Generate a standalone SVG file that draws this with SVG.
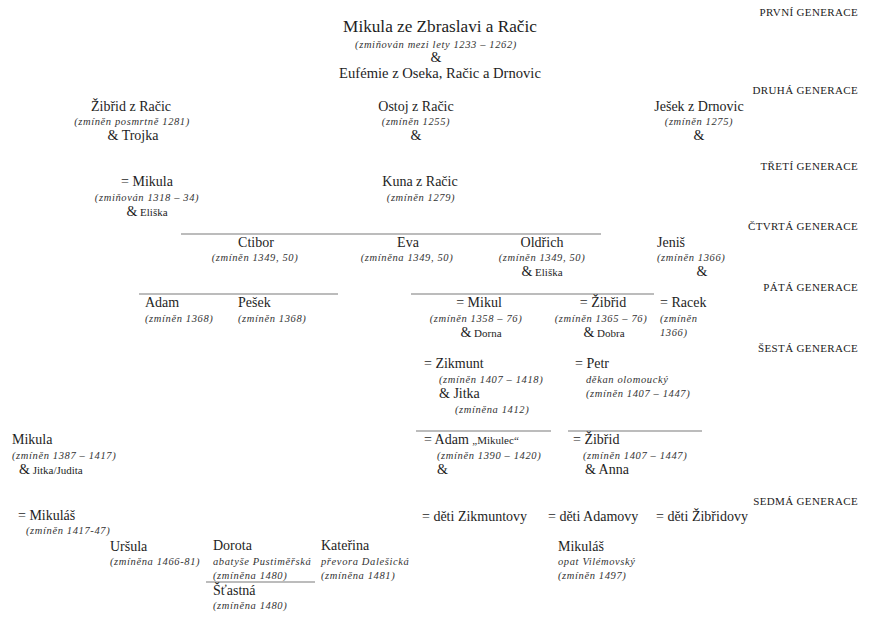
<svg xmlns="http://www.w3.org/2000/svg" width="873" height="622" viewBox="0 0 873 622">
<style>
text{font-family:"Liberation Serif","Times New Roman",serif;fill:#1e1e1e}
.n{font-size:14px}
.t{font-size:17.2px}
.d{font-size:10.5px;font-style:italic;letter-spacing:0.62px;fill:#333}
.s{font-size:11px}
.g{font-size:11px;letter-spacing:0.35px;fill:#222;text-anchor:end}
.c{text-anchor:middle}
.ln{stroke:#7a7a7a;stroke-width:1.2;fill:none}
</style>
<rect width="873" height="622" fill="#fff"/>
<g id="generations">
<text class="g" x="858" y="16">PRVNÍ GENERACE</text>
<text class="g" x="858" y="94">DRUHÁ GENERACE</text>
<text class="g" x="858" y="170">TŘETÍ GENERACE</text>
<text class="g" x="858" y="230">ČTVRTÁ GENERACE</text>
<text class="g" x="858" y="291">PÁTÁ GENERACE</text>
<text class="g" x="858" y="352">ŠESTÁ GENERACE</text>
<text class="g" x="858" y="505">SEDMÁ GENERACE</text>
</g>
<g id="connectors">
<line class="ln" x1="181" y1="234" x2="601" y2="234"/>
<line class="ln" x1="139" y1="294" x2="338" y2="294"/>
<line class="ln" x1="411" y1="294" x2="654" y2="294"/>
<line class="ln" x1="416" y1="431" x2="551" y2="431"/>
<line class="ln" x1="568" y1="431" x2="702" y2="431"/>
<line class="ln" x1="206" y1="582" x2="315" y2="582"/>
</g>
<g id="mikula-zbraslav">
<text class="t c" x="440" y="32">Mikula ze Zbraslavi a Račic</text>
<text class="d c" x="436" y="48">(zmiňován mezi lety 1233 – 1262)</text>
<text class="n c" x="436" y="62">&amp;</text>
<text class="c" x="440" y="78" style="font-size:14.6px">Eufémie z Oseka, Račic a Drnovic</text>
</g>
<g id="zibrid-racic">
<text class="n c" x="131" y="111">Žibřid z Račic</text>
<text class="d c" x="132" y="125">(zmíněn posmrtně 1281)</text>
<text class="n c" x="133" y="140">&amp; Trojka</text>
</g>
<g id="ostoj">
<text class="n c" x="416" y="111">Ostoj z Račic</text>
<text class="d c" x="416" y="125">(zmíněn 1255)</text>
<text class="n c" x="416" y="140">&amp;</text>
</g>
<g id="jesek">
<text class="n c" x="699" y="111">Ješek z Drnovic</text>
<text class="d c" x="699" y="125">(zmíněn 1275)</text>
<text class="n c" x="699" y="140">&amp;</text>
</g>
<g id="mikula-3">
<text class="n c" x="147" y="186">= Mikula</text>
<text class="d c" x="147" y="201">(zmiňován 1318 – 34)</text>
<text class="c" x="147" y="216"><tspan class="n">&amp;</tspan><tspan class="s"> Eliška</tspan></text>
</g>
<g id="kuna">
<text class="n c" x="420" y="186">Kuna z Račic</text>
<text class="d c" x="421" y="201">(zmíněn 1279)</text>
</g>
<g id="ctibor">
<text class="n c" x="256" y="247">Ctibor</text>
<text class="d c" x="255" y="261">(zmíněn 1349, 50)</text>
</g>
<g id="eva">
<text class="n c" x="408" y="247">Eva</text>
<text class="d c" x="407" y="261">(zmíněna 1349, 50)</text>
</g>
<g id="oldrich">
<text class="n c" x="542" y="247">Oldřich</text>
<text class="d c" x="542" y="261">(zmíněn 1349, 50)</text>
<text class="c" x="542" y="276"><tspan class="n">&amp;</tspan><tspan class="s"> Eliška</tspan></text>
</g>
<g id="jenis">
<text class="n" x="657" y="247">Jeniš</text>
<text class="d" x="657" y="261">(zmíněn 1366)</text>
<text class="n c" x="702" y="276">&amp;</text>
</g>
<g id="adam-5">
<text class="n" x="145" y="307">Adam</text>
<text class="d" x="145" y="322">(zmíněn 1368)</text>
</g>
<g id="pesek">
<text class="n" x="238" y="307">Pešek</text>
<text class="d" x="238" y="322">(zmíněn 1368)</text>
</g>
<g id="mikul">
<text class="n c" x="479" y="307">= Mikul</text>
<text class="d c" x="476" y="322">(zmíněn 1358 – 76)</text>
<text class="c" x="481" y="337"><tspan class="n">&amp;</tspan><tspan class="s"> Dorna</tspan></text>
</g>
<g id="zibrid-5">
<text class="n c" x="603" y="307">= Žibřid</text>
<text class="d c" x="601" y="322">(zmíněn 1365 – 76)</text>
<text class="c" x="604" y="337"><tspan class="n">&amp;</tspan><tspan class="s"> Dobra</tspan></text>
</g>
<g id="racek">
<text class="n" x="660" y="307">= Racek</text>
<text class="d" x="660" y="322">(zmíněn</text>
<text class="d" x="660" y="336">1366)</text>
</g>
<g id="zikmunt">
<text class="n" x="424" y="368">= Zikmunt</text>
<text class="d" x="439" y="383">(zmíněn 1407 – 1418)</text>
<text class="n" x="439" y="398">&amp; Jitka</text>
<text class="d" x="455" y="413">(zmíněna 1412)</text>
</g>
<g id="petr">
<text class="n" x="575" y="368">= Petr</text>
<text class="d" x="586" y="383">děkan olomoucký</text>
<text class="d" x="586" y="397">(zmíněn 1407 – 1447)</text>
</g>
<g id="mikula-6">
<text class="n" x="12" y="444">Mikula</text>
<text class="d" x="12" y="459">(zmíněn 1387 – 1417)</text>
<text x="19" y="474"><tspan class="n">&amp;</tspan><tspan class="s"> Jitka/Judita</tspan></text>
</g>
<g id="adam-mikulec">
<text x="424" y="444"><tspan class="n">= Adam </tspan><tspan class="s">„Mikulec“</tspan></text>
<text class="d" x="437" y="459">(zmíněn 1390 – 1420)</text>
<text class="n" x="437" y="474">&amp;</text>
</g>
<g id="zibrid-6">
<text class="n" x="573" y="444">= Žibřid</text>
<text class="d" x="583" y="459">(zmíněn 1407 – 1447)</text>
<text class="n" x="585" y="474">&amp; Anna</text>
</g>
<g id="mikulas-7">
<text class="n" x="18" y="520">= Mikuláš</text>
<text class="d" x="26" y="534">(zmíněn 1417-47)</text>
</g>
<g id="deti-zikmuntovy">
<text class="n" x="422" y="521">= děti Zikmuntovy</text>
</g>
<g id="deti-adamovy">
<text class="n" x="548" y="521">= děti Adamovy</text>
</g>
<g id="deti-zibridovy">
<text class="n" x="656" y="521">= děti Žibřidovy</text>
</g>
<g id="ursula">
<text class="n" x="110" y="551">Uršula</text>
<text class="d" x="110" y="565">(zmíněna 1466-81)</text>
</g>
<g id="dorota">
<text class="n" x="213" y="550">Dorota</text>
<text class="d" x="213" y="565">abatyše Pustiměřská</text>
<text class="d" x="213" y="579">(zmíněna 1480)</text>
</g>
<g id="stastna">
<text class="n" x="213" y="595">Šťastná</text>
<text class="d" x="213" y="609">(zmíněna 1480)</text>
</g>
<g id="katerina">
<text class="n" x="321" y="550">Kateřina</text>
<text class="d" x="321" y="565">převora Dalešická</text>
<text class="d" x="321" y="579">(zmíněna 1481)</text>
</g>
<g id="mikulas-opat">
<text class="n" x="558" y="551">Mikuláš</text>
<text class="d" x="558" y="565">opat Vilémovský</text>
<text class="d" x="558" y="579">(zmíněn 1497)</text>
</g>
</svg>
